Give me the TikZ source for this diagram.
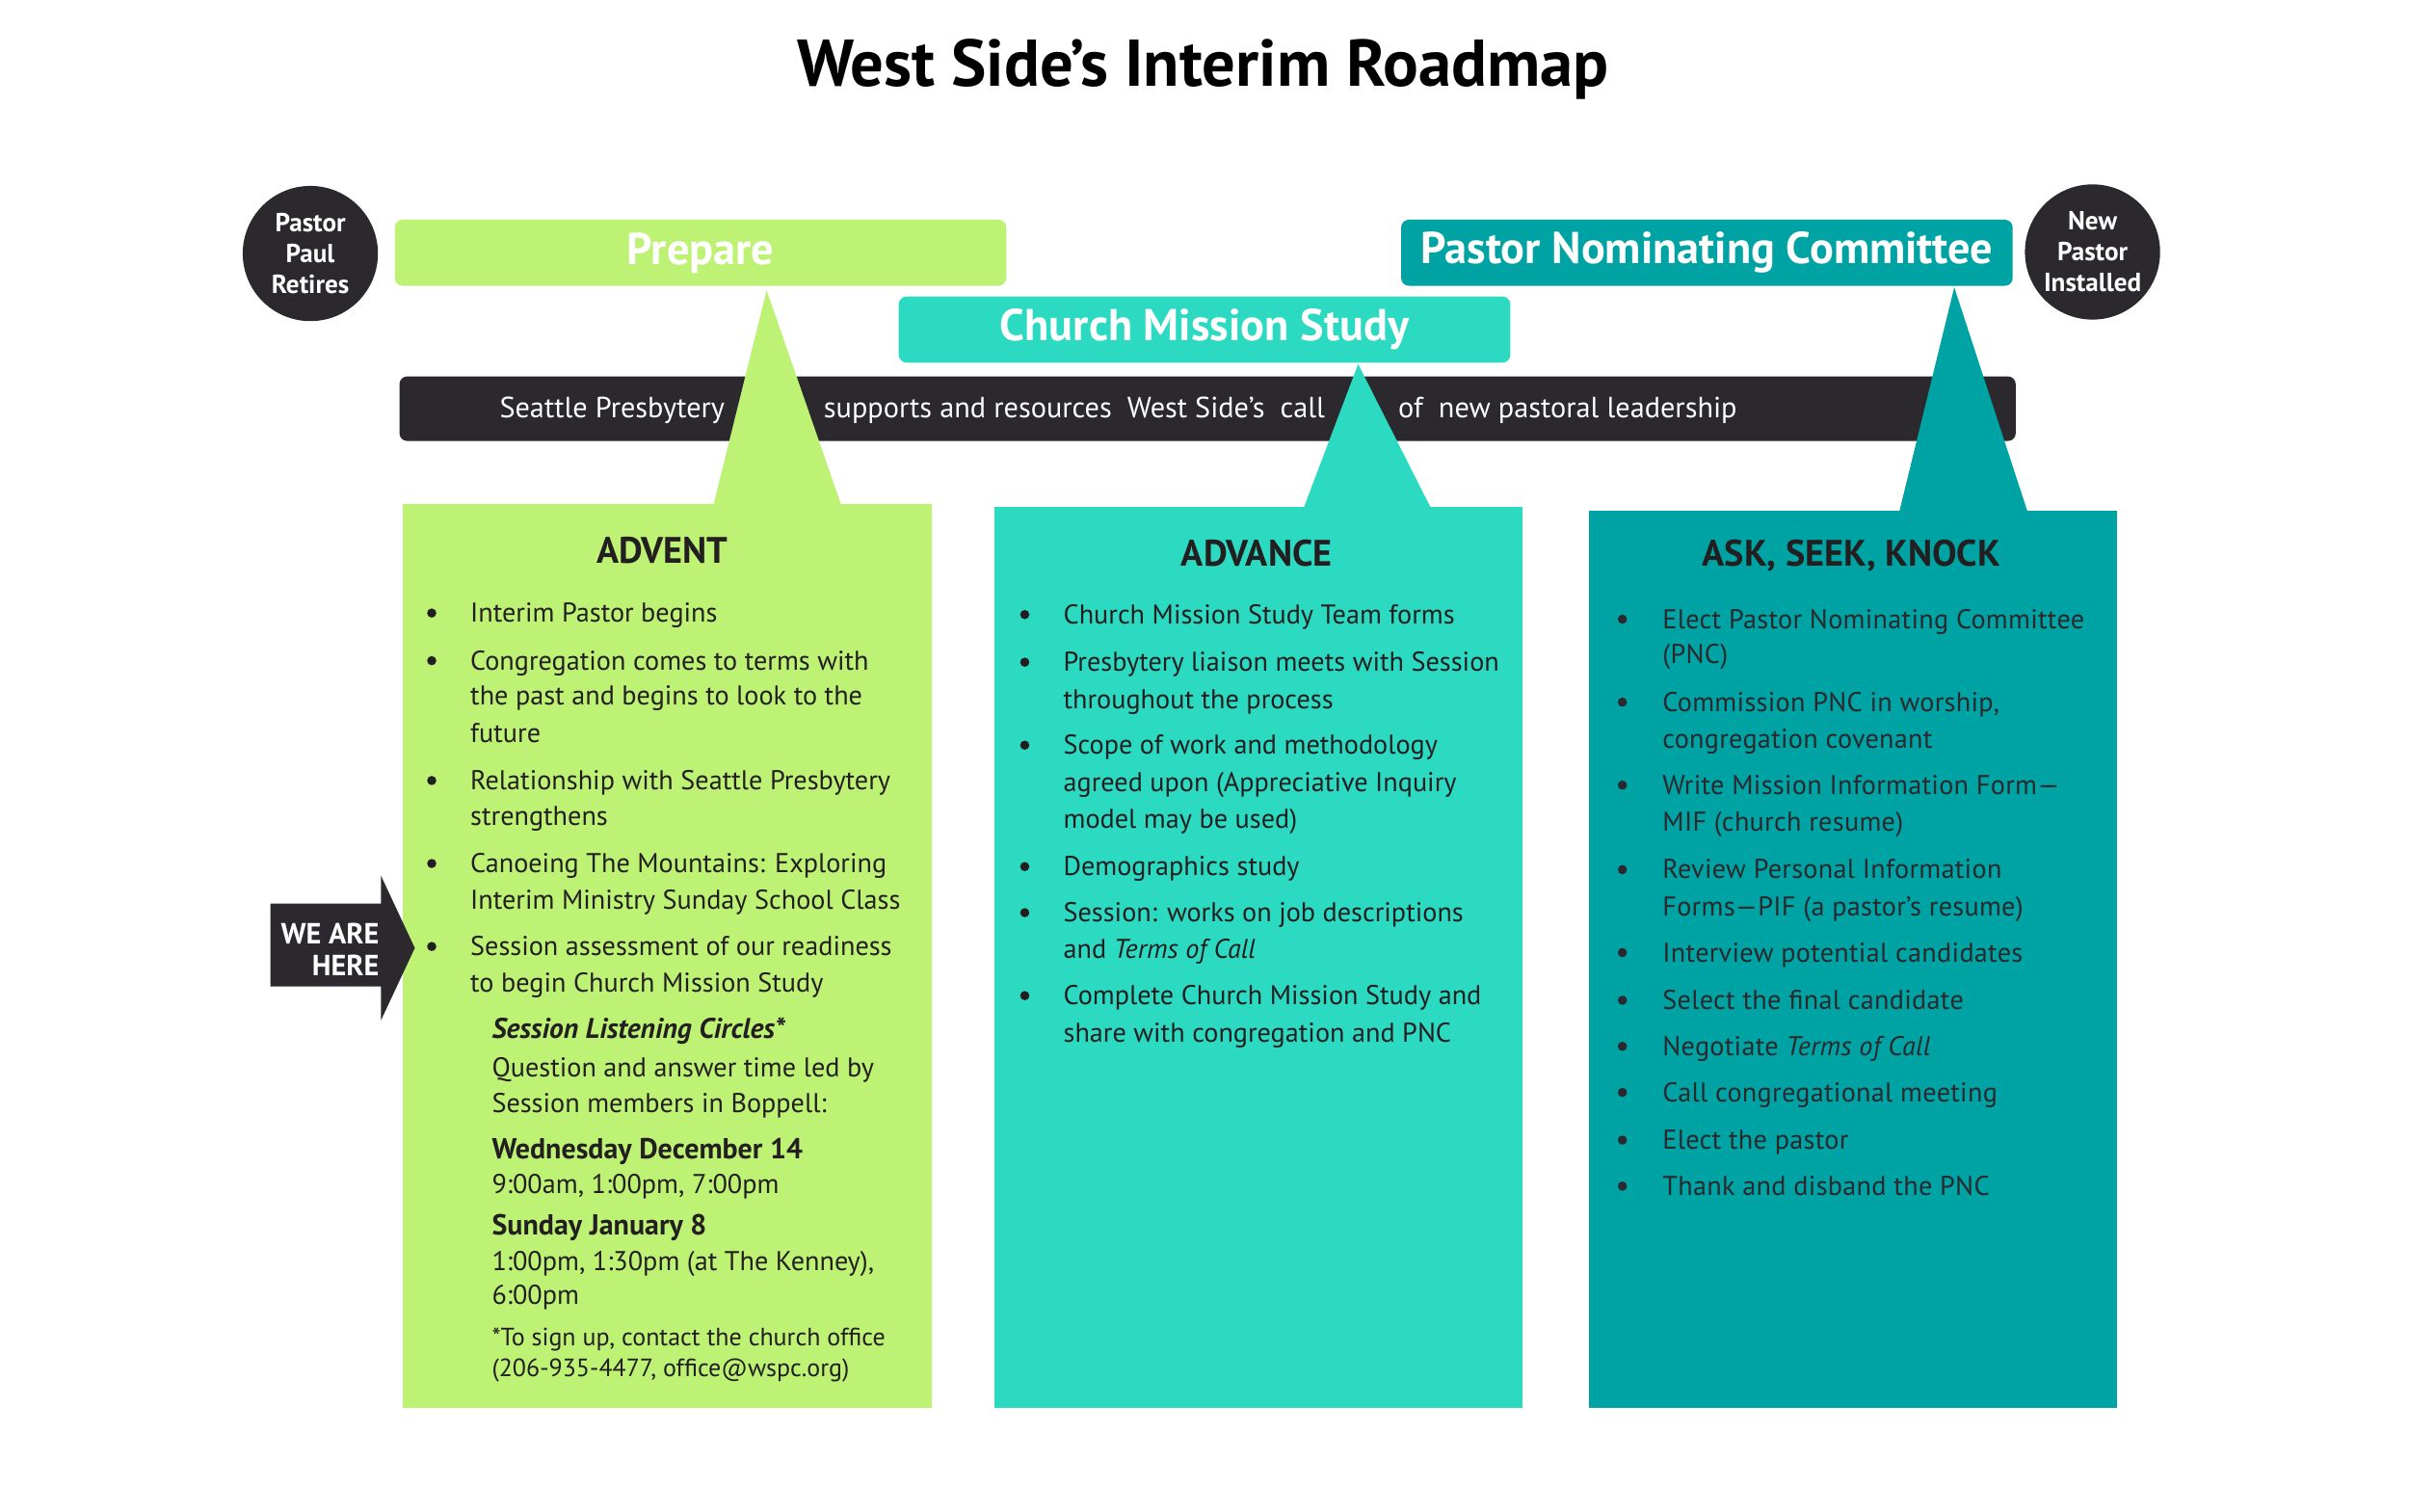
\documentclass[tikz,border=0pt]{standalone}
\usepackage{fontspec}
\setmainfont{PT Sans}
\usetikzlibrary{positioning,calc}
\definecolor{prepgreen}{HTML}{BEF274}
\definecolor{cmsturq}{HTML}{2CD9C1}
\definecolor{pncteal}{HTML}{00A3A3}
\definecolor{roadblack}{HTML}{2B282E}
\definecolor{inkdark}{HTML}{231F20}
\begin{document}
\begin{tikzpicture}[x=1pt,y=-1pt,
  bar/.style={rounded corners=5pt,inner sep=0pt,minimum width=398pt,minimum height=43pt,
    text=white,font=\bfseries\fontsize{29}{32}\selectfont},
  milestone/.style={circle,fill=roadblack,minimum size=88pt,inner sep=0pt,text=white,
    align=center,font=\bfseries\fontsize{17}{20}\selectfont},
  column/.style={anchor=north west,inner sep=0pt,minimum width=344pt},
  colhead/.style={text=inkdark,font=\bfseries\fontsize{24}{28}\selectfont},
  txtline/.style={anchor=mid west,inner sep=0pt,yshift=-3.5pt,text=inkdark,font=\fontsize{17.7}{20}\selectfont},
  roadtext/.style={anchor=mid west,inner sep=0pt,yshift=-3.5pt,text=white,font=\fontsize{19}{20}\selectfont}
]
  \useasboundingbox (0,0) rectangle (1568,984);
  \node[font=\bfseries\fontsize{43}{46}\selectfont] (title) at (783,45) {West Side’s Interim Roadmap};

  % milestones
  \node[milestone] (retires) at (202,165) {Pastor\\Paul\\Retires};
  \node[milestone] (installed) at (1362,164) {New\\Pastor\\Installed};

  % phase bars
  \node[bar,fill=prepgreen] (prepare) at (456,164.5) {Prepare};
  \node[bar,fill=pncteal] (pnc) at (1111,164.5) {Pastor Nominating Committee};
  \node[bar,fill=cmsturq] (cms) at (784,214.5) {Church Mission Study};

  % presbytery bar
  \fill[roadblack,rounded corners=5pt] (260,245) rectangle (1312,287);
  \node[roadtext] (presb) at (325,266) {Seattle Presbytery};
  \node[roadtext] (supports) at (536,266) {supports and resources\ \ West Side's\ \ call};
  \node[roadtext] (ofnew) at (910,266) {of\ \ new pastoral leadership};

  % pointers
  \fill[prepgreen] (499,189) -- (464,330) -- (548,330) -- cycle;
  \fill[cmsturq] (884,237) -- (848,332) -- (932,332) -- cycle;
  \fill[pncteal] (1272,187) -- (1236,334) -- (1320,334) -- cycle;

  % columns
  \node[column,fill=prepgreen,minimum height=588pt] (advent) at (262,328) {};
  \node[column,fill=cmsturq,minimum height=586pt] (advance) at (647,330) {};
  \node[column,fill=pncteal,minimum height=584pt] (ask) at (1034,332) {};
  \node[colhead] (adventhead) at (431,358) {ADVENT};
  \node[colhead] (advancehead) at (818,360) {ADVANCE};
  \node[colhead] (askhead) at (1205,362) {ASK, SEEK, KNOCK};

  % ADVENT
  \foreach \y in {399,430,508,562,616}
    \fill[inkdark] (281,\y) circle (3pt);
  \foreach \y/\t [count=\i] in {399/Interim Pastor begins,
      430/Congregation comes to terms with, 453/the past and begins to look to the, 477/future,
      508/Relationship with Seattle Presbytery, 531/strengthens,
      562/Canoeing The Mountains: Exploring, 586/Interim Ministry Sunday School Class,
      616/Session assessment of our readiness, 640/to begin Church Mission Study}
    \node[txtline] (adv\i) at (306,\y) {\t};
  \node[txtline,font=\bfseries\itshape\fontsize{18.5}{20}\selectfont] (circles) at (320,670) {Session Listening Circles*};
  \node[txtline] (qa1) at (320,695) {Question and answer time led by};
  \node[txtline] (qa2) at (320,718) {Session members in Boppell:};
  \node[txtline,font=\bfseries\fontsize{18.8}{20}\selectfont] (wed) at (320,748) {Wednesday December 14};
  \node[txtline] (wedtimes) at (320,771) {9:00am, 1:00pm, 7:00pm};
  \node[txtline,font=\bfseries\fontsize{18.8}{20}\selectfont] (sun) at (320,798) {Sunday January 8};
  \node[txtline] (suntimes1) at (320,821) {1:00pm, 1:30pm (at The Kenney),};
  \node[txtline] (suntimes2) at (320,843) {6:00pm};
  \node[txtline,font=\fontsize{16.3}{18}\selectfont] (signup1) at (320,870) {*To sign up, contact the church office};
  \node[txtline,font=\fontsize{16.3}{18}\selectfont] (signup2) at (320,890) {(206-935-4477, office@wspc.org)};

  % ADVANCE
  \foreach \y in {400,431,485,564,594,648}
    \fill[inkdark] (667,\y) circle (3pt);
  \foreach \y/\t [count=\i] in {400/Church Mission Study Team forms,
      431/Presbytery liaison meets with Session, 455/throughout the process,
      485/Scope of work and methodology, 509/agreed upon (Appreciative Inquiry, 533/model may be used),
      564/Demographics study,
      594/Session: works on job descriptions, 618/and \textit{Terms of Call},
      648/Complete Church Mission Study and, 672/share with congregation and PNC}
    \node[txtline] (adc\i) at (692,\y) {\t};

  % ASK, SEEK, KNOCK
  \foreach \y in {403,457,511,566,620,651,681,711,742,772}
    \fill[roadblack] (1056,\y) circle (3pt);
  \foreach \y/\t [count=\i] in {403/Elect Pastor Nominating Committee, 426/(PNC),
      457/{Commission PNC in worship,}, 481/congregation covenant,
      511/Write Mission Information Form—, 535/MIF (church resume),
      566/Review Personal Information, 590/Forms—PIF (a pastor’s resume),
      620/Interview potential candidates, 651/Select the final candidate,
      681/Negotiate \textit{Terms of Call}, 711/Call congregational meeting,
      742/Elect the pastor, 772/Thank and disband the PNC}
    \node[txtline,text=roadblack,font=\fontsize{17.7}{20}\selectfont\addfontfeature{LetterSpace=1}] (ask\i) at (1082,\y) {\t};

  % we are here
  \fill[roadblack] (176,588) -- (248,588) -- (248,570) -- (270,617) -- (248,664) -- (248,642) -- (176,642) -- cycle;
  \node[anchor=east,align=right,inner sep=0pt,text=white,font=\bfseries\fontsize{19}{21}\selectfont] (here) at (247,618) {WE ARE\\HERE};
\end{tikzpicture}
\end{document}
